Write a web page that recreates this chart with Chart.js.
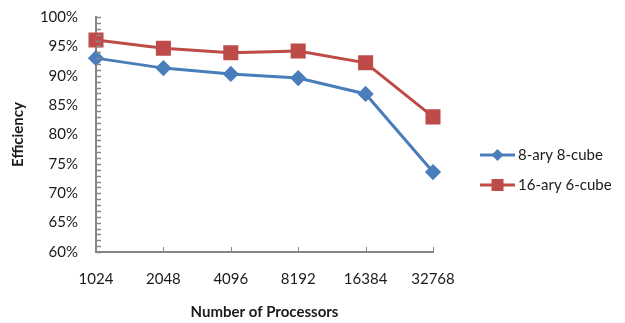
<!DOCTYPE html>
<html>
<head>
<meta charset="utf-8">
<script src="https://cdn.jsdelivr.net/npm/chart.js@4.4.1/dist/chart.umd.min.js"></script>
<style>
  html, body { margin: 0; padding: 0; background: #fff; }
  #wrap { width: 625px; height: 323px; }
</style>
</head>
<body>
<div id="wrap"><canvas id="eff" width="625" height="323"></canvas></div>
<script>
const processors = ['1024', '2048', '4096', '8192', '16384', '32768'];
const cube8 = [93.0, 91.3, 90.3, 89.6, 86.9, 73.6];
const cube6 = [96.1, 94.7, 93.9, 94.2, 92.2, 83.0];
const seriesNames = ['8-ary 8-cube', '16-ary 6-cube'];

const axisGray = '#868686';
const fontFamily = 'Lato, "Open Sans", sans-serif';

// ticks drawn inward, excel style
const innerTicks = {
    id: 'innerTicks',
    afterDatasetsDraw(chart) {
        const { ctx, chartArea, scales } = chart;
        ctx.save();
        ctx.strokeStyle = axisGray;
        ctx.lineWidth = 1.5;
        const y = scales.y;
        y.ticks.forEach((t, i) => {
            const py = Math.round(y.getPixelForTick(i)) + 0.5;
            ctx.beginPath();
            ctx.moveTo(chartArea.left, py);
            ctx.lineTo(chartArea.left + 5, py);
            ctx.stroke();
        });
        ctx.lineWidth = 1;
        const x = scales.x;
        x.ticks.forEach((t, i) => {
            if (i === 0) return;
            const px = Math.round(x.getPixelForTick(i)) + 0.5;
            ctx.beginPath();
            ctx.moveTo(px, chartArea.bottom);
            ctx.lineTo(px, chartArea.bottom - 5);
            ctx.stroke();
        });
        ctx.restore();
    }
};

const sideLegend = {
    id: 'sideLegend',
    afterDraw(chart) {
        const { ctx } = chart;
        const x0 = 480, x1 = 515, top = 155, gap = 30;
        ctx.save();
        chart.data.datasets.forEach((ds, i) => {
            const yy = top + i * gap;
            ctx.strokeStyle = ds.borderColor;
            ctx.lineWidth = 3;
            ctx.beginPath();
            ctx.moveTo(x0, yy);
            ctx.lineTo(x1, yy);
            ctx.stroke();
            ctx.fillStyle = ds.pointBackgroundColor;
            const cx = (x0 + x1) / 2;
            if (ds.pointStyle === 'rect') {
                ctx.fillRect(cx - 6, yy - 6, 12, 12);
            } else {
                ctx.beginPath();
                ctx.moveTo(cx, yy - 6);
                ctx.lineTo(cx + 6, yy);
                ctx.lineTo(cx, yy + 6);
                ctx.lineTo(cx - 6, yy);
                ctx.closePath();
                ctx.fill();
            }
            ctx.fillStyle = '#1a1a1a';
            ctx.font = '15px ' + fontFamily;
            ctx.textBaseline = 'middle';
            ctx.textAlign = 'left';
            ctx.fillText(ds.label, x1 + 3, yy);
        });
        ctx.restore();
    }
};

new Chart(document.getElementById('eff'), {
    type: 'line',
    data: {
        labels: processors,
        datasets: [
            {
                label: seriesNames[0],
                data: cube8,
                borderColor: '#4A7EBB',
                backgroundColor: '#4A7EBB',
                pointBackgroundColor: '#4A7EBB',
                pointBorderColor: '#4A7EBB',
                borderWidth: 3,
                pointStyle: 'rectRot',
                pointRadius: 6,
                pointHoverRadius: 6,
                tension: 0,
                clip: false
            },
            {
                label: seriesNames[1],
                data: cube6,
                borderColor: '#BE4B48',
                backgroundColor: '#BE4B48',
                pointBackgroundColor: '#BE4B48',
                pointBorderColor: '#BE4B48',
                borderWidth: 3,
                pointStyle: 'rect',
                pointRadius: 8.5,
                pointHoverRadius: 8.5,
                tension: 0,
                clip: false
            }
        ]
    },
    options: {
        responsive: false,
        animation: false,
        layout: { padding: { top: 17, right: 192, bottom: 0, left: 0 } },
        plugins: {
            legend: { display: false },
            tooltip: { enabled: false }
        },
        scales: {
            x: {
                offset: false,
                grid: { display: false, offset: false, drawTicks: false },
                border: { display: true, color: axisGray, width: 2 },
                ticks: {
                    color: '#1a1a1a',
                    font: { family: fontFamily, size: 15 },
                    padding: 18,
                    maxRotation: 0
                },
                title: {
                    display: true,
                    text: 'Number of Processors',
                    color: '#1a1a1a',
                    font: { family: fontFamily, size: 15, weight: 'bold' },
                    padding: { top: 0, bottom: 2 }
                },
                afterFit(scale) {
                    scale.height = 71;
                    scale.paddingLeft = 0;
                    scale.paddingRight = 0;
                }
            },
            y: {
                min: 60,
                max: 100,
                grid: { display: false, drawTicks: false },
                border: { display: true, color: axisGray, width: 2 },
                ticks: {
                    stepSize: 1,
                    autoSkip: false,
                    color: '#1a1a1a',
                    font: { family: fontFamily, size: 15 },
                    padding: 18,
                    callback: (v) => (v % 5 === 0 ? v + '%' : '')
                },
                title: {
                    display: true,
                    text: 'Efficiency',
                    color: '#1a1a1a',
                    font: { family: fontFamily, size: 15, weight: 'bold' },
                    padding: { top: 9, bottom: 0 }
                },
                afterFit(scale) {
                    scale.width = 96;
                    scale.paddingTop = 0;
                    scale.paddingBottom = 0;
                }
            }
        }
    },
    plugins: [innerTicks, sideLegend]
});
</script>
</body>
</html>
